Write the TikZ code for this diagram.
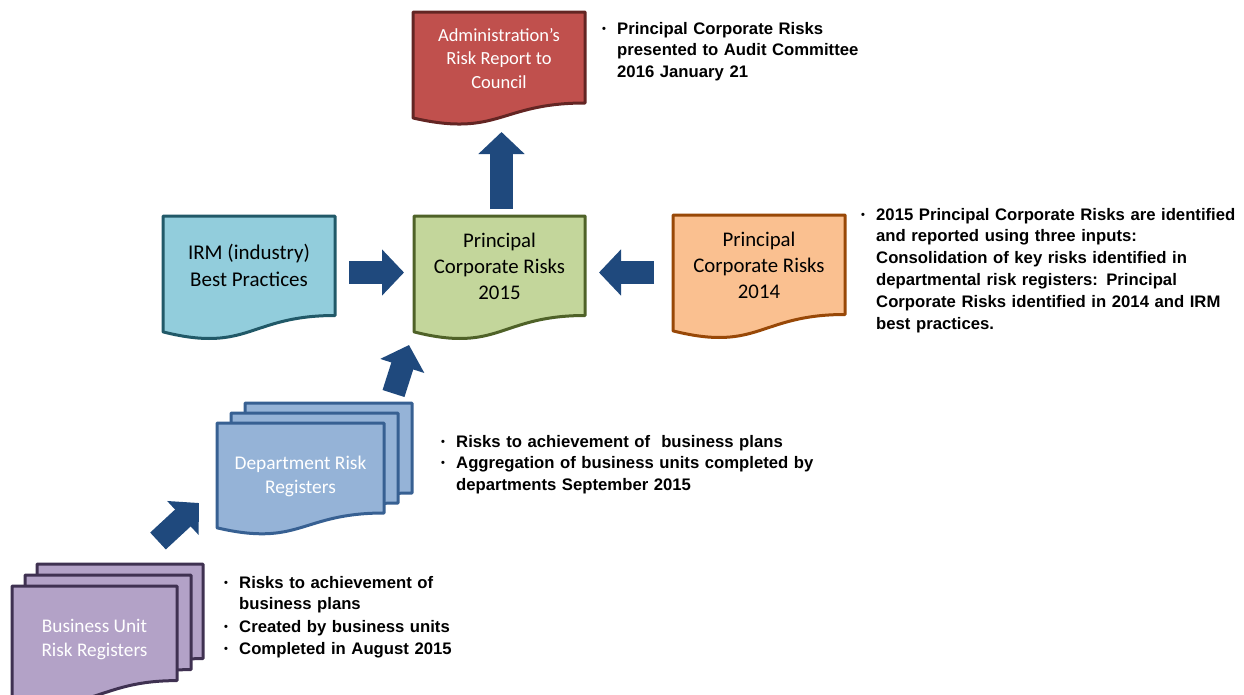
\documentclass[tikz,border=0pt]{standalone}
\usepackage{fontspec}
\setmainfont{Carlito}
\newfontfamily\notefont{Liberation Sans}
\usetikzlibrary{calc,arrows.meta}
\pgfdeclarelayer{background}
\pgfsetlayers{background,main}

\definecolor{admfill}{HTML}{C0504D}\definecolor{admline}{HTML}{632523}
\definecolor{irmfill}{HTML}{92CDDC}\definecolor{irmline}{HTML}{215968}
\definecolor{pcrfill}{HTML}{C3D69B}\definecolor{pcrline}{HTML}{4F6228}
\definecolor{oldfill}{HTML}{FAC090}\definecolor{oldline}{HTML}{984807}
\definecolor{depfill}{HTML}{95B3D7}\definecolor{depline}{HTML}{376092}
\definecolor{bufill}{HTML}{B3A2C7}\definecolor{buline}{HTML}{3F3151}
\definecolor{arrowblue}{HTML}{1F497D}

\newcommand\docshape[2]{%
  \path[docline,#2] let \p1=(#1.north west), \p2=(#1.south east), \n1={\y1-\y2} in
  (\p1) -- (\x2,\y1) -- (\p2)
  .. controls ({(\x1+\x2)/2},\y2) and ({(\x1+\x2)/2},{\y2-0.381*\n1}) ..
  (\x1,{\y2-0.1646*\n1}) -- cycle;}

\newcommand\bul[1]{\noindent\makebox[15pt][l]{\raisebox{2pt}{\fontsize{11}{11}\selectfont\textbullet}}\begin{tabular}[t]{@{}l@{}}#1\end{tabular}\par}

\tikzset{
  sheet/.style={draw=none, fill=none, inner sep=0pt, outer sep=0pt, anchor=north west},
  docline/.style={line width=3pt, line join=round},
  boxtext/.style={align=center, inner sep=0pt},
  note/.style={font=\notefont\bfseries\fontsize{16.7}{21.8}\selectfont, align=left,
    text width=400pt, anchor=north west, inner sep=0pt},
  barrow/.style={draw=arrowblue, line width=23pt, -{Triangle[width=45pt,length=22pt]}},
}

\begin{document}
\begin{tikzpicture}[x=1pt,y=-1pt]
\useasboundingbox (0,0) rectangle (1244,694);

% shape frames (text rectangles of the document shapes)
\node[sheet, minimum width=172pt, minimum height=91pt]   (adm)  at (413,12)  {};
\node[sheet, minimum width=172pt, minimum height=99.5pt] (irm)  at (163,216) {};
\node[sheet, minimum width=171pt, minimum height=99.5pt] (p15)  at (414,216) {};
\node[sheet, minimum width=172pt, minimum height=99.5pt] (p14)  at (673,215) {};
\node[sheet, minimum width=167pt, minimum height=90pt]   (dep3) at (245,403) {};
\node[sheet, minimum width=167pt, minimum height=90pt]   (dep2) at (231,413) {};
\node[sheet, minimum width=167pt, minimum height=90pt]   (dep)  at (217,423) {};
\node[sheet, minimum width=166pt, minimum height=94.6pt] (bu3)  at (37,564)  {};
\node[sheet, minimum width=166pt, minimum height=94.6pt] (bu2)  at (25,575)  {};
\node[sheet, minimum width=165pt, minimum height=94.6pt] (bu)   at (12,586)  {};

\begin{pgfonlayer}{background}
  \docshape{adm}{fill=admfill, draw=admline}
  \docshape{irm}{fill=irmfill, draw=irmline}
  \docshape{p15}{fill=pcrfill, draw=pcrline}
  \docshape{p14}{fill=oldfill, draw=oldline}
  \docshape{dep3}{fill=depfill, draw=depline}
  \docshape{dep2}{fill=depfill, draw=depline}
  \docshape{dep}{fill=depfill, draw=depline}
  \docshape{bu3}{fill=bufill, draw=buline}
  \docshape{bu2}{fill=bufill, draw=buline}
  \docshape{bu}{fill=bufill, draw=buline}
\end{pgfonlayer}

% box texts
\node[boxtext, text=white, font=\fontsize{18.5}{23.5}\selectfont] (admT) at ($(adm)+(0,1)$) {Administration’s\\Risk Report to\\Council};
\node[boxtext, font=\fontsize{21}{27}\selectfont] (irmT) at (irm) {IRM (industry)\\Best Practices};
\node[boxtext, font=\fontsize{20.8}{26}\selectfont] (p15T) at ($(p15)+(0,0.5)$) {Principal\\Corporate Risks\\2015};
\node[boxtext, font=\fontsize{20.8}{26}\selectfont] (p14T) at ($(p14)+(0,1)$) {Principal\\Corporate Risks\\2014};
\node[boxtext, text=white, font=\fontsize{19.4}{24}\selectfont] (depT) at ($(dep)+(0,8)$) {Department Risk\\Registers};
\node[boxtext, text=white, font=\fontsize{19.3}{24}\selectfont] (buT) at ($(bu)+(0,6)$) {Business Unit\\Risk Registers};

% block arrows
\coordinate (upS) at (501.5,209);  \coordinate (upE) at (501.5,132);
\coordinate (irS) at (349,272.5);  \coordinate (irE) at (404,272.5);
\coordinate (olS) at (654,272.5);  \coordinate (olE) at (599,272.5);
\coordinate (dpS) at (393.5,393.5);\coordinate (dpE) at (409,345);
\coordinate (buS) at (158,541);    \coordinate (buE) at (199,503);
\draw[barrow] (upS) -- (upE);
\draw[barrow] (irS) -- (irE);
\draw[barrow] (olS) -- (olE);
\draw[barrow] (dpS) -- (dpE);
\draw[barrow] (buS) -- (buE);

% notes
\node[note] (admN) at (602,18.7) {\bul{Principal Corporate Risks\\presented to Audit Committee\\2016 January 21}};
\node[note] (p15N) at (861,204.7) {\bul{2015 Principal Corporate Risks are identified\\and reported using three inputs:\\Consolidation of key risks identified in\\departmental risk registers: Principal\\Corporate Risks identified in 2014 and IRM\\best practices.}};
\node[note] (depN) at (441,431.7) {\bul{Risks to achievement of \ business plans}\bul{Aggregation of business units completed by\\departments September 2015}};
\node[note] (buN) at (224,572.7) {\bul{Risks to achievement of\\business plans}\bul{Created by business units}\bul{Completed in August 2015}};
\end{tikzpicture}
\end{document}
